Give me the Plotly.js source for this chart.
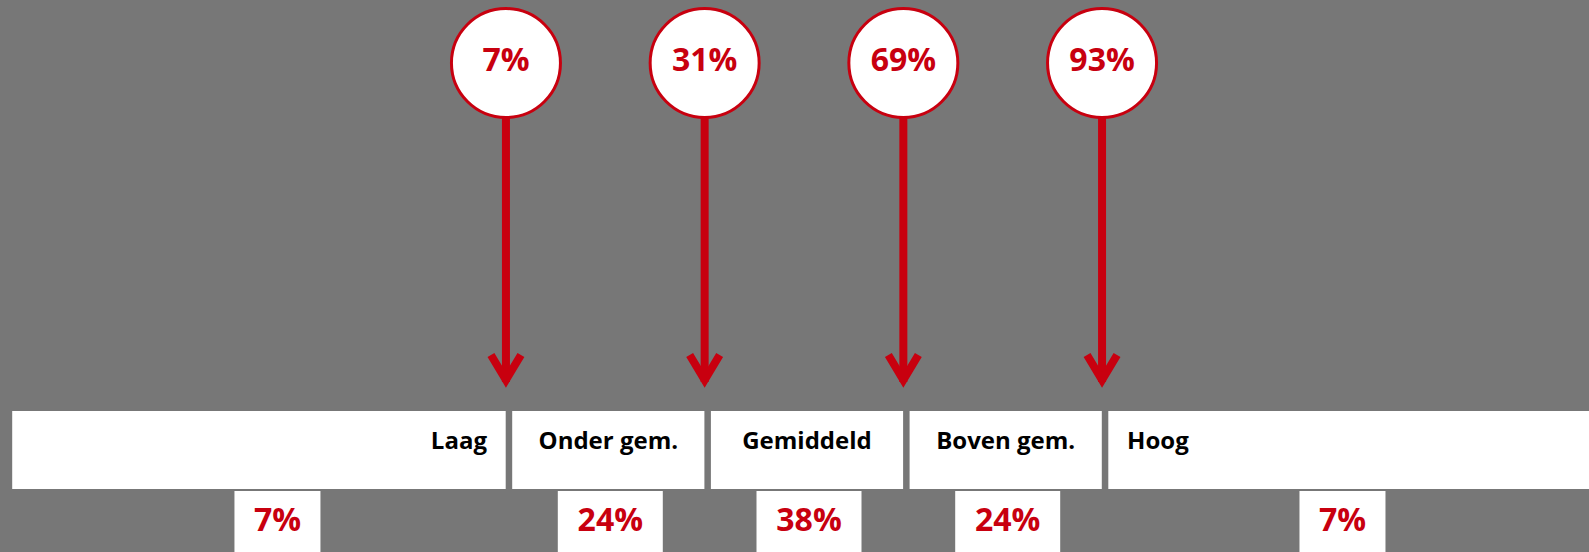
<!DOCTYPE html>
<html>
<head>
<meta charset="utf-8">
<script src="https://cdn.plot.ly/plotly-3.0.1.min.js"></script>
<style>
  html, body { margin: 0; padding: 0; background: #777777; }
  #chart { width: 1589px; height: 552px; }
</style>
</head>
<body>
<div id="chart"></div>
<script>
// Data: groups on a normal curve, split at -1.5, -0.5, 0.5, 1.5 SD
const categories = ['Laag', 'Onder gem.', 'Gemiddeld', 'Boven gem.', 'Hoog'];
const groupPct = [7, 24, 38, 24, 7];
const cutZ = [-1.5, -0.5, 0.5, 1.5];
const cumPct = [7, 31, 69, 93];

// Look
const RED = '#C8000F';
const GREY = '#777777';
const FONT = 'Open Sans, Noto Sans, sans-serif';
const PX = 198.7;        // pixels per SD
const CENTER = 804;      // pixel of z = 0
const OUTER = 4.0;       // outer edge of the band
const px = v => v / PX;  // pixel length -> z units
const SHIFT = px(3);     // band sits a little right of the arrows

// segments of the band
const edges = [-OUTER].concat(cutZ, [OUTER]).map(e => e + SHIFT);
const gap = px(6.5);
const segMid = [], segWidth = [];
for (let i = 0; i < categories.length; i++) {
  const a = edges[i] + (i > 0 ? gap / 2 : 0);
  const b = edges[i + 1] - (i < categories.length - 1 ? gap / 2 : 0);
  segMid.push((a + b) / 2);
  segWidth.push(b - a);
}

// category label placement: first right, last left, rest centered
const labelX = categories.map((c, i) => {
  if (i === 0) return edges[1] - px(22);
  if (i === categories.length - 1) return edges[i] + px(22);
  return segMid[i];
});
const labelPos = categories.map((c, i) =>
  i === 0 ? 'middle left' : i === categories.length - 1 ? 'middle right' : 'middle center');

// bottom boxes
const boxText = groupPct.map(v => v + '%');
const boxX = categories.map((c, i) => {
  if (i === 0) return -2.65;
  if (i === categories.length - 1) return 2.71;
  return segMid[i] + px(2);
});
const boxW = boxText.map(t => px(48 + 19 * t.length));

// arrows
const shaftX = [], shaftY = [], headX = [], headY = [];
cutZ.forEach(z => {
  shaftX.push(z, z, null);
  shaftY.push(118, 382, null);
  headX.push(z - px(15), z, z + px(15), null);
  headY.push(355, 380, 355, null);
});

const data = [
  {
    type: 'bar', x: segMid, width: segWidth, base: 411, y: categories.map(() => 78),
    marker: { color: '#FFFFFF', line: { width: 0 } }, hoverinfo: 'skip'
  },
  {
    type: 'scatter', mode: 'text', x: labelX, y: categories.map(() => 443),
    text: categories, textposition: labelPos,
    textfont: { family: FONT, size: 24, color: '#000000', weight: 'bold' }, hoverinfo: 'skip'
  },
  {
    type: 'bar', x: boxX, width: boxW, base: 491, y: boxX.map(() => 70),
    marker: { color: '#FFFFFF', line: { width: 0 } }, hoverinfo: 'skip'
  },
  {
    type: 'scatter', mode: 'text', x: boxX, y: boxX.map(() => 523),
    text: boxText, textposition: 'middle center',
    textfont: { family: FONT, size: 32, color: RED, weight: 'bold' }, hoverinfo: 'skip'
  },
  {
    type: 'scatter', mode: 'lines', x: shaftX, y: shaftY,
    line: { color: RED, width: 8 }, hoverinfo: 'skip'
  },
  {
    type: 'scatter', mode: 'lines', x: headX, y: headY,
    line: { color: RED, width: 8 }, hoverinfo: 'skip'
  },
  {
    type: 'scatter', mode: 'markers+text', x: cutZ, y: cutZ.map(() => 63),
    text: cumPct.map(v => v + '%'), textposition: 'middle center',
    marker: { size: 109, color: '#FFFFFF', line: { color: RED, width: 3 } },
    textfont: { family: FONT, size: 32, color: RED, weight: 'bold' }, hoverinfo: 'skip'
  }
];

const layout = {
  width: 1589, height: 552,
  margin: { l: 0, r: 0, t: 0, b: 0 },
  paper_bgcolor: GREY, plot_bgcolor: GREY,
  showlegend: false, barmode: 'overlay',
  xaxis: { range: [-CENTER / PX, (1589 - CENTER) / PX], visible: false, fixedrange: true },
  yaxis: { range: [552, 0], visible: false, fixedrange: true }
};

Plotly.newPlot('chart', data, layout, { staticPlot: true });
</script>
</body>
</html>
